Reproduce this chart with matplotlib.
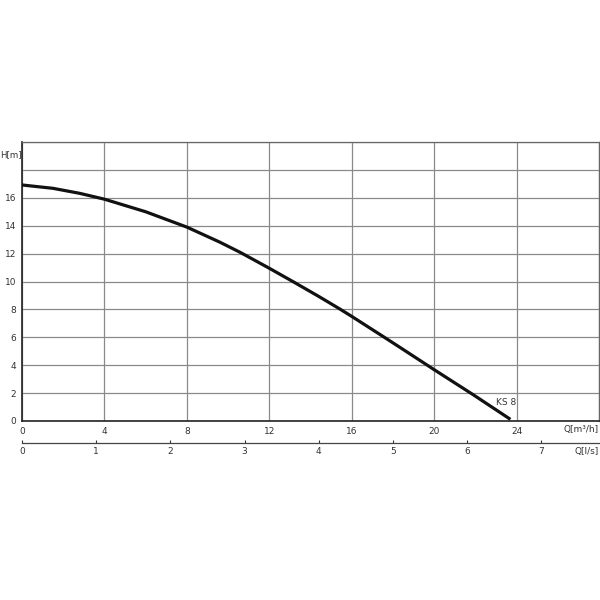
import matplotlib

matplotlib.use("Agg")
import matplotlib.pyplot as plt  # noqa: E402

# Curva característica: Q em m³/h, H em m
Q_M3H = [0, 1.5, 2.8, 4, 6, 8, 9.6, 10.6, 12, 13.2, 14.4, 15.4, 16,
         17.5, 18.4, 20, 21.9, 23.7]
H_M = [16.92, 16.68, 16.32, 15.9, 15.0, 13.9, 12.82, 12.08, 10.95, 9.95,
       8.93, 8.05, 7.5, 6.08, 5.22, 3.68, 1.88, 0.12]
X_TICKS = [0, 4, 8, 12, 16, 20, 24]
Y_TICKS = [0, 2, 4, 6, 8, 10, 12, 14, 16]
LS_TICKS = [0, 1, 2, 3, 4, 5, 6, 7]
CURVE_LABEL = "KS 8"

INK = "#111111"
GRID = "#8a8a8a"
TXT = "#333333"

fig = plt.figure(figsize=(6, 6), dpi=100)
ax = fig.add_axes([22 / 600, 1 - 421 / 600, 577 / 600, 279 / 600])
ax.set_xlim(0, 28)
ax.set_ylim(0, 20)

ax.set_xticks(range(0, 29, 4))
ax.set_yticks(range(0, 21, 2))
ax.set_xticklabels([str(v) if v in X_TICKS else "" for v in range(0, 29, 4)])
ax.set_yticklabels([str(v) if v in Y_TICKS else "" for v in range(0, 21, 2)])
ax.tick_params(length=0, labelsize=6.5, colors=TXT, pad=4)
ax.grid(True, color=GRID, linewidth=0.9)
ax.set_axisbelow(True)
for side in ("top", "right"):
    ax.spines[side].set_color("#666666")
    ax.spines[side].set_linewidth(0.9)
for side in ("left", "bottom"):
    ax.spines[side].set_color("#222222")
    ax.spines[side].set_linewidth(1.2)

ax.plot(Q_M3H, H_M, color=INK, linewidth=2.3, solid_capstyle="butt",
        solid_joinstyle="round", zorder=3)
ax.text(Q_M3H[-1] - 0.2, 1.35, CURVE_LABEL, fontsize=6.5, color=TXT,
        ha="center", va="center")

fig.text(0.001, 1 - 155 / 600, "H[m]", fontsize=6.2, color=TXT,
         ha="left", va="center")
ax.text(1.0, -0.032, "Q[m³/h]", transform=ax.transAxes, fontsize=6.5,
        color=TXT, ha="right", va="center")

# Eixo secundário em l/s
sec = ax.secondary_xaxis(-0.079, functions=(lambda q: q / 3.6,
                                           lambda q: q * 3.6))
sec.set_xticks(LS_TICKS)
sec.tick_params(direction="in", length=2, width=0.8, labelsize=6.5,
                colors=TXT, pad=3)
sec.spines["bottom"].set_color("#444444")
sec.spines["bottom"].set_linewidth(0.9)
ax.text(1.0, -0.108, "Q[l/s]", transform=ax.transAxes, fontsize=6.5,
        color=TXT, ha="right", va="center")

fig.savefig("out.png", facecolor="white")
